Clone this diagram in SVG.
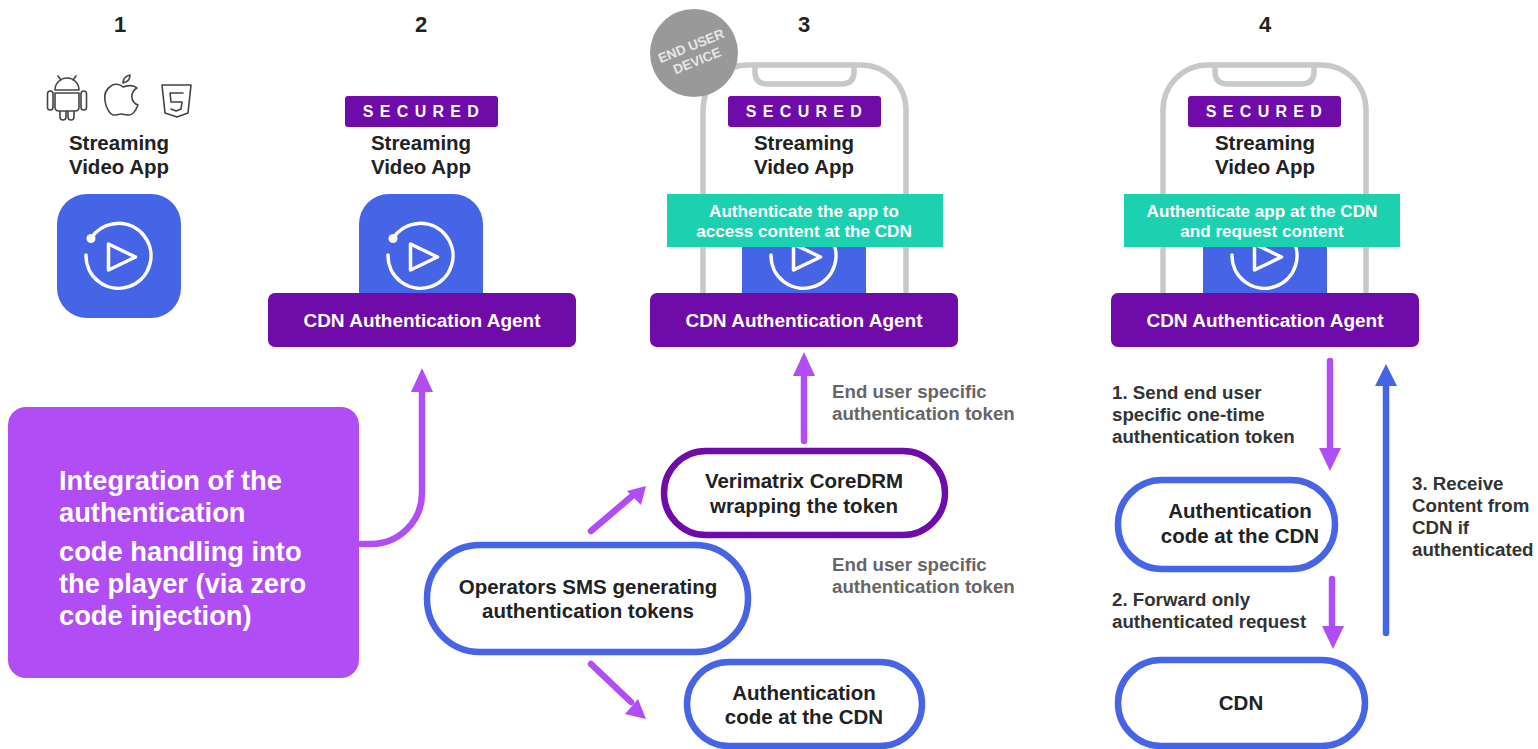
<svg xmlns="http://www.w3.org/2000/svg" width="1538" height="749" viewBox="0 0 1538 749">
<style>
text{font-family:"Liberation Sans",Arial,sans-serif;font-weight:700;text-anchor:middle;fill:#222}
.t{font-size:20.500px}
.n{font-size:22px}
.w{fill:#fff;font-size:19px}
.a{fill:#fff;font-size:17.100px}
.g{fill:#666;font-size:18.700px;text-anchor:start}
.d{fill:#333;font-size:18.700px;text-anchor:start}
.sec{fill:#fff;font-size:16px;letter-spacing:6.300px}
.pk{fill:#fff;stroke-width:6.500}
.blue{stroke:#4664e6}
.pur{stroke:#6f0ba8}
.ln{fill:none;stroke-linecap:round;stroke-width:6.500}
.al{stroke:#b04df5}
.ic{fill:none;stroke:#fff;stroke-width:3.500}
.op{fill:none;stroke:#444;stroke-width:1.600;stroke-linejoin:round;stroke-linecap:round}
.ph{fill:none;stroke:#c8c8c8;stroke-width:5.500}
.wl{fill:#fff;text-anchor:start}
.dev{fill:#e6e6e6;font-size:13.500px}
</style>
<defs>
<g id="play">
<path class="ic" d="M-27.500 -17.500A32.500 32.500 0 1 1 -32.500 -1" stroke-linecap="round"/>
<circle cx="-27.500" cy="-17.500" r="4.500" fill="#fff"/>
<path class="ic" d="M-10 -12L17 1L-10 14Z" stroke-linejoin="round"/>
</g>
</defs>

<g id="numbers">
<text x="120" y="32" class="n">1</text>
<text x="421" y="32" class="n">2</text>
<text x="804" y="32" class="n">3</text>
<text x="1265" y="32" class="n">4</text>
</g>

<g id="col1">
<g id="os-icons">
<path class="op" d="M55 90a12 12 0 0 1 24 0ZM55 93h24v14q0 4-4 4h-16q-4 0-4-4ZM60 111v6a3 3 0 0 0 6 0v-6M68 111v6a3 3 0 0 0 6 0v-6M58 76l3 4M76 76l-3 4"/>
<rect class="op" x="47.500" y="91" width="5.500" height="19" rx="2.700"/>
<rect class="op" x="81" y="91" width="5.500" height="19" rx="2.700"/>
<path class="op" d="M123 87c-3-3-9-4-12-1c-5 3-7 9-6 15c1 7 5 14 9 14c3 0 5-1 7-1s5 1 8 1c4 0 7-5 9-10c-8-3-8-13-1-17c-3-3-8-3-14-1ZM123 83c0-4 3-7 7-8c0 4-3 7-7 8Z"/>
<path class="op" d="M162 85h29l-3 28l-11 4l-12-4ZM183 93h-13l1 9h11l-1 7l-5 2l-5-2"/>
</g>
<text x="119" y="150" class="t">Streaming</text>
<text x="119" y="174" class="t">Video App</text>
<rect x="57" y="194" width="124" height="124" rx="30" fill="#4664e6"/>
<use href="#play" x="118.500" y="256"/>
</g>

<g id="col2">
<rect x="345" y="96" width="153" height="31" rx="3" fill="#6f0ba8"/>
<text x="424" y="117" class="sec">SECURED</text>
<text x="421" y="150" class="t">Streaming</text>
<text x="421" y="174" class="t">Video App</text>
<path d="M359 293V224a30 30 0 0 1 30-30h64a30 30 0 0 1 30 30V293Z" fill="#4664e6"/>
<use href="#play" x="420.500" y="256"/>
<rect x="268" y="293" width="308" height="54" rx="7" fill="#6f0ba8"/>
<text x="422" y="327" class="w">CDN Authentication Agent</text>
</g>

<g id="col3">
<path class="ph" d="M703 293V110a45 45 0 0 1 45-45h113a45 45 0 0 1 45 45V293"/>
<path class="ph" d="M755 65v7q0 12 13 12h73q13 0 13-12v-7"/>
<rect x="728" y="96" width="153" height="31" rx="3" fill="#6f0ba8"/>
<text x="807" y="117" class="sec">SECURED</text>
<text x="804" y="150" class="t">Streaming</text>
<text x="804" y="174" class="t">Video App</text>
<rect x="742" y="240" width="124" height="53" fill="#4664e6"/>
<use href="#play" x="803.500" y="256"/>
<rect x="667" y="194" width="276" height="53" fill="#1cd1af"/>
<text x="804" y="217" class="a">Authenticate the app to</text>
<text x="804" y="237" class="a">access content at the CDN</text>
<rect x="650" y="293" width="308" height="54" rx="7" fill="#6f0ba8"/>
<text x="804" y="327" class="w">CDN Authentication Agent</text>
<g id="end-user-device">
<circle cx="694" cy="53" r="44" fill="#999"/>
<g transform="rotate(-22 694 53)">
<text x="694" y="50" class="dev">END USER</text>
<text x="694" y="66" class="dev">DEVICE</text>
</g>
</g>
</g>

<g id="col4">
<path class="ph" d="M1163 293V110a45 45 0 0 1 45-45h113a45 45 0 0 1 45 45V293"/>
<path class="ph" d="M1215 65v7q0 12 13 12h73q13 0 13-12v-7"/>
<rect x="1188" y="96" width="153" height="31" rx="3" fill="#6f0ba8"/>
<text x="1267" y="117" class="sec">SECURED</text>
<text x="1265" y="150" class="t">Streaming</text>
<text x="1265" y="174" class="t">Video App</text>
<rect x="1203" y="240" width="124" height="53" fill="#4664e6"/>
<use href="#play" x="1264.500" y="256"/>
<rect x="1124" y="194" width="276" height="53" fill="#1cd1af"/>
<text x="1262" y="217" class="a">Authenticate app at the CDN</text>
<text x="1262" y="237" class="a">and request content</text>
<rect x="1111" y="293" width="308" height="54" rx="7" fill="#6f0ba8"/>
<text x="1265" y="327" class="w">CDN Authentication Agent</text>
</g>

<g id="integration-note">
<rect x="8" y="407" width="351" height="271" rx="18" fill="#b04df5"/>
<g style="font-size:27.300px">
<text x="59" y="490" class="wl">Integration of the</text>
<text x="59" y="522" class="wl">authentication</text>
<text x="59" y="561" class="wl">code handling into</text>
<text x="59" y="593" class="wl">the player (via zero</text>
<text x="59" y="625" class="wl">code injection)</text>
</g>
</g>

<g id="connectors">
<path class="ln al" d="M361 544h10a51 51 0 0 0 51-51V388"/>
<path d="M411 392L422 368L433 392Z" fill="#b04df5"/>
<path class="ln al" d="M804 441V372"/>
<path d="M793 376L804 352L815 376Z" fill="#b04df5"/>
<path class="ln al" d="M591 531L631 497"/>
<path d="M627 491L646 486L641 505Z" fill="#b04df5"/>
<path class="ln al" d="M591 664L631 702"/>
<path d="M625 714L646 719L638 699Z" fill="#b04df5"/>
<path class="ln al" d="M1330 361V450"/>
<path d="M1319 448L1330 471L1341 448Z" fill="#b04df5"/>
<path class="ln al" d="M1332 579V628"/>
<path d="M1322 626L1333 649L1344 626Z" fill="#b04df5"/>
<path class="ln blue" d="M1386 633V385"/>
<path d="M1375 386L1386 364L1397 386Z" fill="#4664e6"/>
</g>

<g id="verimatrix">
<rect x="664" y="451" width="281" height="84" rx="42" class="pk pur"/>
<text x="804" y="488" class="t">Verimatrix CoreDRM</text>
<text x="804" y="513" class="t">wrapping the token</text>
</g>
<g id="operators-sms">
<rect x="427" y="545" width="321" height="107" rx="53" class="pk blue"/>
<text x="588" y="594" class="t">Operators SMS generating</text>
<text x="588" y="618" class="t">authentication tokens</text>
</g>
<g id="auth-code-3">
<rect x="687" y="662" width="235" height="84" rx="42" class="pk blue"/>
<text x="804" y="700" class="t">Authentication</text>
<text x="804" y="724" class="t">code at the CDN</text>
</g>
<g id="auth-code-4">
<rect x="1118" y="480" width="217" height="89" rx="44" class="pk blue"/>
<text x="1240" y="518" class="t">Authentication</text>
<text x="1240" y="543" class="t">code at the CDN</text>
</g>
<g id="cdn">
<rect x="1118" y="660" width="247" height="86" rx="43" class="pk blue"/>
<text x="1241" y="710" class="t">CDN</text>
</g>

<g id="labels">
<text x="832" y="398" class="g">End user specific</text>
<text x="832" y="420" class="g">authentication token</text>
<text x="832" y="571" class="g">End user specific</text>
<text x="832" y="593" class="g">authentication token</text>
<text x="1112" y="399" class="d">1. Send end user</text>
<text x="1112" y="421" class="d">specific one-time</text>
<text x="1112" y="443" class="d">authentication token</text>
<text x="1112" y="606" class="d">2. Forward only</text>
<text x="1112" y="628" class="d">authenticated request</text>
<text x="1412" y="490" class="d">3. Receive</text>
<text x="1412" y="512" class="d">Content from</text>
<text x="1412" y="534" class="d">CDN if</text>
<text x="1412" y="556" class="d">authenticated</text>
</g>
</svg>
